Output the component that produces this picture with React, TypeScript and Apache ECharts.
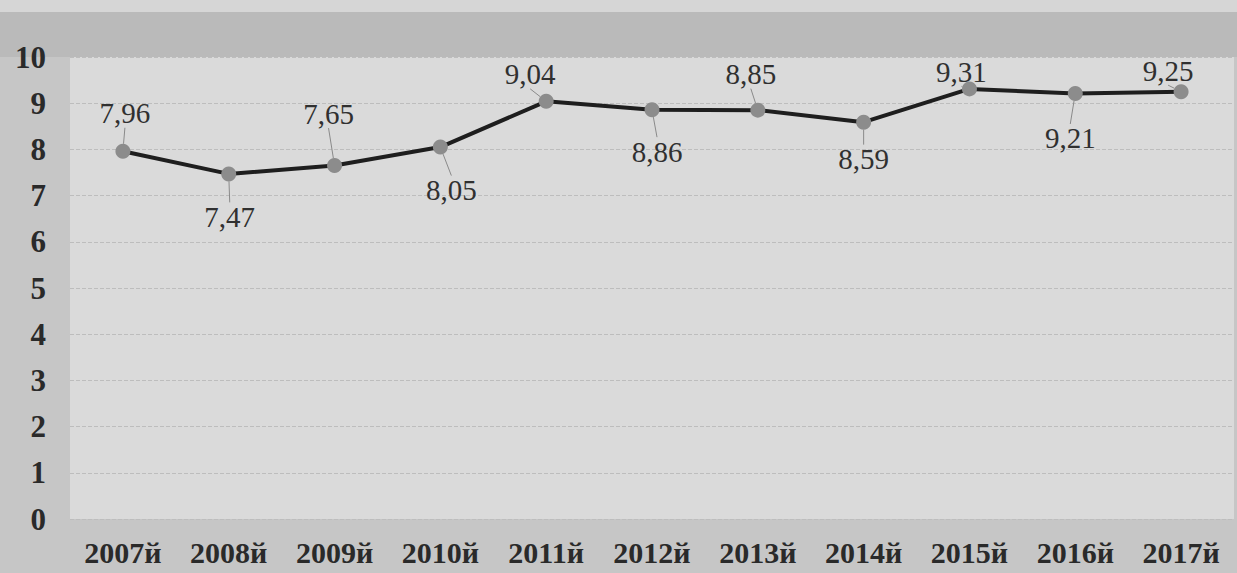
import React, { useEffect, useRef } from "react";
import * as echarts from "echarts";

const categories = ["2007й", "2008й", "2009й", "2010й", "2011й", "2012й", "2013й", "2014й", "2015й", "2016й", "2017й"];
const values = [7.96, 7.47, 7.65, 8.05, 9.04, 8.86, 8.85, 8.59, 9.31, 9.21, 9.25];
const yTicks = [0, 1, 2, 3, 4, 5, 6, 7, 8, 9, 10];

// label placement (layout only): side, extra dx, extra dy in px
const labelSides = ["top", "bottom", "top", "bottom", "top", "bottom", "top", "bottom", "top", "bottom", "top"];
const labelShiftX = [2, 1, -6, 11, -16, 5, -7, 0, -8, -5, -13];
const labelShiftY = [-8, 13, -22, 13, 3, 12, -6, 7, 13, 15, 9];

export default function App() {
  const ref = useRef<HTMLDivElement>(null);
  useEffect(() => {
    if (!ref.current) return;
    const chart = echarts.init(ref.current, undefined, { renderer: "svg" });
    const font = "'Liberation Serif', 'DejaVu Serif', serif";
    chart.setOption({
      animation: false,
      backgroundColor: "#c6c6c6",
      graphic: [
        { type: "rect", left: 0, top: 0, shape: { width: 1237, height: 12 }, style: { fill: "#d6d6d6" }, z: -10 },
        { type: "rect", left: 0, top: 12, shape: { width: 1237, height: 45 }, style: { fill: "#bababa" }, z: -10 },
      ],
      grid: {
        left: 70,
        right: 3,
        top: 57,
        bottom: 54,
        show: true,
        backgroundColor: "#dadada",
        borderWidth: 0,
      },
      xAxis: {
        type: "category",
        data: categories,
        boundaryGap: true,
        axisLine: { show: false },
        axisTick: { show: false },
        axisLabel: {
          margin: 18,
          color: "#2a2a2a",
          fontFamily: font,
          fontWeight: "bold",
          fontSize: 30,
        },
      },
      yAxis: {
        type: "value",
        min: yTicks[0],
        max: yTicks[yTicks.length - 1],
        interval: 1,
        axisLine: { show: false },
        axisTick: { show: false },
        splitLine: { show: true, lineStyle: { color: "#bdbdbd", type: "dashed", width: 1 } },
        axisLabel: {
          margin: 24,
          color: "#2a2a2a",
          fontFamily: font,
          fontWeight: "bold",
          fontSize: 31,
        },
      },
      series: [
        {
          type: "line",
          data: values.map((v, i) => ({
            value: v,
            label: { position: labelSides[i], distance: 8 },
          })),
          symbol: "circle",
          symbolSize: 15,
          itemStyle: { color: "#8c8c8c" },
          lineStyle: { color: "#1e1e1e", width: 4 },
          label: {
            show: true,
            color: "#303030",
            fontFamily: font,
            fontSize: 29,
            formatter: (p: any) => String(p.value).replace(".", ","),
          },
          labelLayout: (params: any) => ({
            dx: labelShiftX[params.dataIndex],
            dy: labelShiftY[params.dataIndex],
          }),
          labelLine: {
            show: true,
            lineStyle: { color: "#8a8a8a", width: 1 },
          },
          z: 3,
        },
      ],
    });
    return () => chart.dispose();
  }, []);
  return (
    <div
      ref={ref}
      style={{ position: "fixed", left: 0, top: 0, width: 1237, height: 573 }}
    />
  );
}
